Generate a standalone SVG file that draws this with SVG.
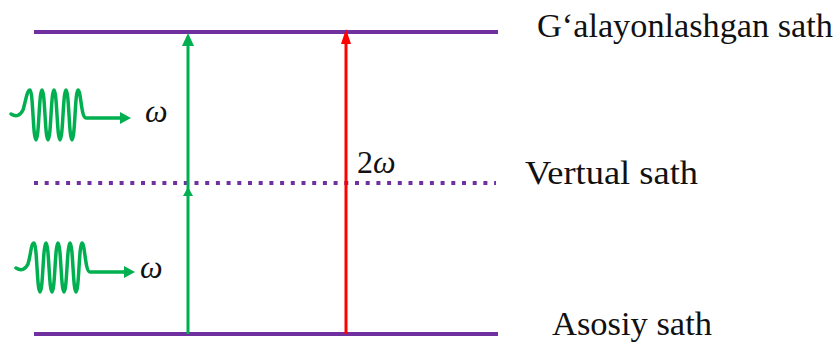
<svg xmlns="http://www.w3.org/2000/svg" width="840" height="342" viewBox="0 0 840 342">
<style>
.lvl{stroke:#7030A0;stroke-width:4;fill:none}
.dot{stroke:#7030A0;stroke-width:4;fill:none;stroke-dasharray:4 6.7}
.g{stroke:#00B050;stroke-width:3;fill:none}
.wave{stroke:#00B050;stroke-width:3.5;fill:none;stroke-linejoin:round;stroke-linecap:round}
.r{stroke:#FF0000;stroke-width:3;fill:none}
.lbl{font-family:"Liberation Serif","Times New Roman",serif;font-size:34px;fill:#111}
.om{font-family:"Liberation Serif","Times New Roman",serif;font-size:32px;font-style:italic;fill:#111}
</style>
<g id="levels">
<line class="lvl" x1="34" y1="32" x2="498" y2="32"/>
<line class="dot" x1="34" y1="183" x2="496" y2="183"/>
<line class="lvl" x1="34" y1="334" x2="498" y2="334"/>
</g>
<g id="labels">
<text class="lbl" x="537" y="37" textLength="296" lengthAdjust="spacingAndGlyphs">G‘alayonlashgan sath</text>
<text class="lbl" x="525" y="184" textLength="173" lengthAdjust="spacingAndGlyphs">Vertual sath</text>
<text class="lbl" x="552" y="335" textLength="160" lengthAdjust="spacingAndGlyphs">Asosiy sath</text>
</g>
<g id="connectors">
<line class="g" x1="188" y1="334" x2="188" y2="44"/>
<path d="M182,46 L188,33 L194,46 Z" fill="#00B050"/>
<path d="M183,196 L188,187 L193,196 Z" fill="#00B050"/>
<line class="r" x1="346" y1="334" x2="346" y2="42"/>
<path d="M341,44 L346,29 L351,44 Z" fill="#FF0000"/>
<text class="om" x="357" y="173"><tspan font-style="normal">2</tspan>ω</text>
</g>
<g id="photon1">
<path class="wave" d="M11,114 C16,117 20,116 23,110 C26,100 27,90 30,90 C33,90 33,140 36,140 C39,140 39,90 42,90 C45,90 45,140 48,140 C51,140 51,90 54,90 C57,90 57,140 60,140 C63,140 63,90 66,90 C69,90 69,140 72,140 C75,140 75,90 78,90 C81,90 81,118 86,118 L122,118"/>
<path d="M120,112 L131,118 L120,124 Z" fill="#00B050"/>
<text class="om" x="145" y="122">ω</text>
</g>
<g id="photon2">
<path class="wave" d="M16,268 C21,271 25,270 28,264 C31,254 31,243 34,243 C37,243 37,292 40,292 C43,292 43,243 46,243 C49,243 49,292 52,292 C55,292 55,243 58,243 C61,243 61,292 64,292 C67,292 67,243 70,243 C73,243 73,292 76,292 C79,292 79,243 82,243 C85,243 85,272 90,272 L126,272"/>
<path d="M124,266 L135,272 L124,278 Z" fill="#00B050"/>
<text class="om" x="140" y="278">ω</text>
</g>
</svg>
